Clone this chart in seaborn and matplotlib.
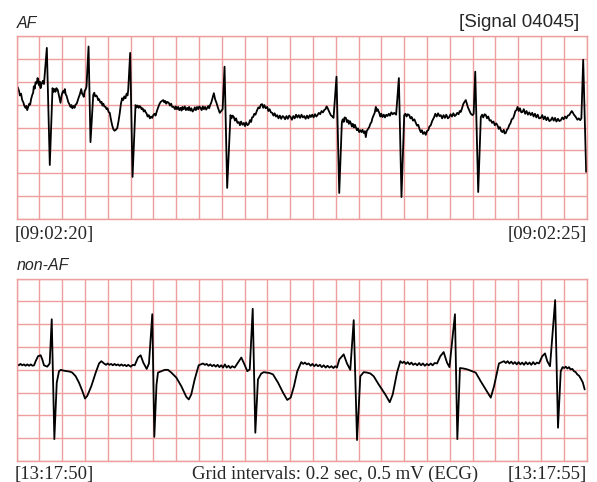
import numpy as np
import pandas as pd
import matplotlib
matplotlib.use("Agg")
import matplotlib.pyplot as plt
import seaborn as sns

# AF strip: (seconds from 09:02:20, millivolts)
af_trace = [
    (0.011, 0.88), (0.022, 0.80), (0.030, 0.70), (0.040, 0.74), (0.050, 0.60),
    (0.060, 0.55), (0.068, 0.48), (0.079, 0.43), (0.086, 0.47), (0.094, 0.38),
    (0.104, 0.46), (0.112, 0.52), (0.120, 0.50), (0.128, 0.62), (0.138, 0.71),
    (0.146, 0.76), (0.152, 0.90), (0.160, 0.85), (0.167, 0.99), (0.178, 0.96),
    (0.184, 1.08), (0.190, 1.06), (0.200, 0.92), (0.205, 1.00), (0.211, 0.86),
    (0.220, 0.95), (0.231, 1.02), (0.236, 0.98), (0.241, 0.95),
    (0.266, 1.74), (0.292, -0.82),
    (0.316, 0.86), (0.326, 0.78), (0.334, 0.84), (0.342, 0.78), (0.350, 0.86),
    (0.362, 0.82), (0.372, 0.70), (0.380, 0.60), (0.386, 0.54), (0.394, 0.68),
    (0.401, 0.75), (0.410, 0.80), (0.417, 0.76), (0.424, 0.84), (0.432, 0.72),
    (0.438, 0.70), (0.445, 0.64), (0.455, 0.55), (0.462, 0.52), (0.474, 0.45),
    (0.482, 0.49), (0.490, 0.42), (0.500, 0.47), (0.509, 0.43), (0.518, 0.50),
    (0.528, 0.52), (0.538, 0.60), (0.546, 0.66), (0.555, 0.72), (0.562, 0.78),
    (0.568, 0.84), (0.575, 0.74), (0.582, 0.72), (0.590, 0.67), (0.598, 0.80),
    (0.606, 0.83), (0.614, 0.89),
    (0.632, 1.77), (0.649, -0.32),
    (0.673, 0.71), (0.682, 0.76), (0.690, 0.68), (0.700, 0.70), (0.708, 0.67),
    (0.716, 0.60), (0.724, 0.62), (0.737, 0.54), (0.746, 0.56), (0.754, 0.48),
    (0.762, 0.52), (0.770, 0.46), (0.781, 0.45), (0.790, 0.40), (0.798, 0.42),
    (0.808, 0.34), (0.818, 0.32), (0.828, 0.18), (0.839, 0.05), (0.850, -0.04),
    (0.860, -0.07), (0.872, -0.05), (0.884, -0.01), (0.895, 0.14), (0.906, 0.32),
    (0.916, 0.52), (0.927, 0.64), (0.936, 0.60), (0.946, 0.68), (0.956, 0.64),
    (0.966, 0.74), (0.974, 0.70), (0.980, 0.82),
    (0.997, 1.63), (1.018, -1.08),
    (1.044, 0.49), (1.054, 0.44), (1.062, 0.48), (1.072, 0.43), (1.080, 0.47),
    (1.088, 0.45), (1.098, 0.40), (1.106, 0.42), (1.116, 0.35), (1.124, 0.38),
    (1.132, 0.34), (1.142, 0.30), (1.150, 0.24), (1.160, 0.27), (1.170, 0.20),
    (1.180, 0.24), (1.190, 0.21), (1.200, 0.27), (1.210, 0.30), (1.220, 0.26),
    (1.234, 0.38), (1.245, 0.45), (1.255, 0.52), (1.265, 0.56), (1.276, 0.58),
    (1.287, 0.60), (1.296, 0.55), (1.304, 0.58), (1.314, 0.52), (1.322, 0.56),
    (1.336, 0.54), (1.346, 0.48), (1.356, 0.52), (1.366, 0.45), (1.380, 0.45),
    (1.390, 0.40), (1.398, 0.46), (1.408, 0.40), (1.418, 0.45), (1.428, 0.38),
    (1.439, 0.43), (1.448, 0.37), (1.456, 0.45), (1.466, 0.40), (1.476, 0.46),
    (1.486, 0.38), (1.497, 0.43), (1.506, 0.38), (1.514, 0.45), (1.524, 0.37),
    (1.534, 0.42), (1.544, 0.35), (1.555, 0.38), (1.564, 0.44), (1.574, 0.38),
    (1.584, 0.45), (1.594, 0.40), (1.604, 0.46), (1.614, 0.43), (1.624, 0.38),
    (1.634, 0.46), (1.644, 0.40), (1.654, 0.45), (1.664, 0.39), (1.673, 0.43),
    (1.682, 0.47), (1.690, 0.42), (1.700, 0.50), (1.708, 0.54), (1.720, 0.65),
    (1.731, 0.75), (1.742, 0.62), (1.754, 0.54), (1.766, 0.44), (1.783, 0.32),
    (1.808, 0.40),
    (1.825, 1.33), (1.848, -1.32),
    (1.877, 0.27), (1.886, 0.20), (1.896, 0.26), (1.906, 0.23), (1.916, 0.15),
    (1.926, 0.20), (1.938, 0.10), (1.950, 0.12), (1.960, 0.05), (1.970, 0.13),
    (1.982, 0.06), (1.994, 0.10), (2.004, 0.03), (2.014, 0.11), (2.026, 0.05),
    (2.038, 0.08), (2.048, 0.16), (2.058, 0.12), (2.066, 0.22), (2.076, 0.23),
    (2.086, 0.30), (2.096, 0.28), (2.111, 0.38), (2.122, 0.44), (2.132, 0.42),
    (2.144, 0.50), (2.155, 0.51), (2.164, 0.43), (2.174, 0.49), (2.186, 0.42),
    (2.199, 0.45), (2.210, 0.36), (2.220, 0.40), (2.232, 0.33), (2.243, 0.32),
    (2.254, 0.26), (2.264, 0.31), (2.276, 0.24), (2.287, 0.27), (2.298, 0.20),
    (2.310, 0.26), (2.322, 0.19), (2.334, 0.25), (2.345, 0.23), (2.356, 0.18),
    (2.368, 0.25), (2.380, 0.19), (2.392, 0.26), (2.404, 0.23), (2.416, 0.17),
    (2.428, 0.25), (2.440, 0.20), (2.452, 0.28), (2.464, 0.22), (2.476, 0.27),
    (2.488, 0.21), (2.500, 0.28), (2.512, 0.22), (2.524, 0.25), (2.536, 0.19),
    (2.548, 0.26), (2.560, 0.20), (2.572, 0.27), (2.582, 0.23), (2.594, 0.28),
    (2.606, 0.22), (2.618, 0.29), (2.630, 0.24), (2.640, 0.27), (2.652, 0.32),
    (2.664, 0.29), (2.676, 0.36), (2.688, 0.33), (2.699, 0.38), (2.710, 0.40),
    (2.720, 0.46), (2.728, 0.43), (2.740, 0.36), (2.757, 0.27), (2.770, 0.24),
    (2.781, 0.21),
    (2.807, 1.11), (2.831, -1.43),
    (2.854, 0.12), (2.862, 0.18), (2.870, 0.12), (2.878, 0.22), (2.889, 0.21),
    (2.898, 0.12), (2.906, 0.16), (2.916, 0.08), (2.924, 0.14), (2.932, 0.10),
    (2.942, 0.02), (2.950, 0.08), (2.960, 0.00), (2.968, 0.06), (2.976, 0.01),
    (2.986, -0.06), (2.996, -0.02), (3.006, -0.10), (3.016, -0.06), (3.026, -0.10),
    (3.035, -0.05), (3.046, -0.12), (3.056, -0.08), (3.064, -0.21), (3.072, -0.08),
    (3.082, -0.04), (3.094, 0.01), (3.104, 0.08), (3.114, 0.12), (3.123, 0.21),
    (3.132, 0.26), (3.142, 0.32), (3.152, 0.45), (3.160, 0.36), (3.168, 0.40),
    (3.182, 0.32), (3.192, 0.24), (3.200, 0.30), (3.211, 0.23), (3.222, 0.28),
    (3.232, 0.22), (3.244, 0.28), (3.254, 0.25), (3.266, 0.30), (3.276, 0.26),
    (3.288, 0.33), (3.300, 0.29), (3.313, 0.32), (3.330, 0.28),
    (3.354, 1.08), (3.377, -1.52),
    (3.401, 0.27), (3.412, 0.30), (3.422, 0.24), (3.432, 0.29), (3.445, 0.27),
    (3.456, 0.20), (3.466, 0.23), (3.478, 0.15), (3.490, 0.18), (3.503, 0.10),
    (3.514, 0.04), (3.524, 0.06), (3.536, -0.04), (3.546, -0.10), (3.556, -0.06),
    (3.566, -0.14), (3.578, -0.10), (3.590, -0.16), (3.600, -0.08), (3.612, -0.06),
    (3.622, 0.02), (3.634, 0.05), (3.646, 0.14), (3.654, 0.18), (3.664, 0.23),
    (3.674, 0.30), (3.686, 0.24), (3.698, 0.31), (3.710, 0.25), (3.722, 0.27),
    (3.734, 0.20), (3.746, 0.27), (3.758, 0.21), (3.770, 0.28), (3.784, 0.20),
    (3.796, 0.23), (3.808, 0.29), (3.820, 0.24), (3.832, 0.31), (3.844, 0.25),
    (3.854, 0.27), (3.866, 0.32), (3.878, 0.29), (3.888, 0.36), (3.897, 0.34),
    (3.908, 0.42), (3.920, 0.52), (3.930, 0.56), (3.941, 0.60), (3.950, 0.52),
    (3.960, 0.44), (3.971, 0.38), (3.985, 0.30), (4.000, 0.27), (4.010, 0.30),
    (4.024, 1.22), (4.050, -1.41),
    (4.073, 0.23), (4.084, 0.28), (4.094, 0.22), (4.106, 0.29), (4.117, 0.27),
    (4.128, 0.20), (4.138, 0.24), (4.150, 0.15), (4.161, 0.16), (4.172, 0.10),
    (4.184, 0.13), (4.196, 0.05), (4.208, 0.09), (4.219, 0.05), (4.230, -0.03),
    (4.240, 0.01), (4.252, -0.08), (4.263, -0.10), (4.274, -0.05), (4.282, -0.13),
    (4.292, -0.12), (4.302, -0.05), (4.312, -0.02), (4.322, 0.05), (4.334, 0.10),
    (4.344, 0.18), (4.356, 0.20), (4.366, 0.27), (4.376, 0.36), (4.386, 0.38),
    (4.395, 0.45), (4.406, 0.36), (4.416, 0.42), (4.428, 0.33), (4.439, 0.34),
    (4.450, 0.40), (4.462, 0.30), (4.474, 0.36), (4.486, 0.28), (4.498, 0.33),
    (4.511, 0.27), (4.524, 0.32), (4.536, 0.24), (4.548, 0.30), (4.560, 0.22),
    (4.572, 0.28), (4.584, 0.20), (4.599, 0.21), (4.612, 0.27), (4.624, 0.18),
    (4.636, 0.24), (4.648, 0.16), (4.660, 0.22), (4.674, 0.14), (4.687, 0.16),
    (4.700, 0.22), (4.712, 0.15), (4.724, 0.21), (4.736, 0.13), (4.750, 0.19),
    (4.762, 0.14), (4.775, 0.16), (4.788, 0.22), (4.800, 0.18), (4.812, 0.24),
    (4.824, 0.20), (4.836, 0.26), (4.848, 0.27), (4.860, 0.32), (4.870, 0.36),
    (4.877, 0.34), (4.890, 0.28), (4.906, 0.23), (4.920, 0.17), (4.932, 0.20),
    (4.945, 0.16), (4.955, 0.20),
    (4.971, 1.48), (4.997, -0.97),
]

# non-AF strip: (seconds from 13:17:50, millivolts)
sinus_trace = [
    (0.002, 0.12), (0.020, 0.10), (0.035, 0.13), (0.050, 0.10), (0.065, 0.12),
    (0.080, 0.09), (0.095, 0.12), (0.110, 0.09), (0.125, 0.12), (0.140, 0.09),
    (0.154, 0.10), (0.168, 0.19), (0.189, 0.30), (0.212, 0.32), (0.226, 0.23),
    (0.241, 0.10), (0.270, 0.07), (0.291, 0.14),
    (0.309, 1.11), (0.332, -1.52),
    (0.353, -0.28), (0.373, -0.03), (0.388, 0.00), (0.402, -0.01), (0.420, -0.02),
    (0.446, -0.03), (0.470, -0.04), (0.489, -0.06), (0.519, -0.14), (0.548, -0.28),
    (0.577, -0.46), (0.601, -0.63), (0.621, -0.57), (0.656, -0.36), (0.695, -0.06),
    (0.724, 0.14), (0.744, 0.19), (0.768, 0.14), (0.785, 0.11), (0.800, 0.14),
    (0.815, 0.11), (0.830, 0.13), (0.845, 0.10), (0.860, 0.13), (0.875, 0.10),
    (0.890, 0.12), (0.905, 0.09), (0.920, 0.12), (0.935, 0.09), (0.950, 0.11),
    (0.965, 0.08), (0.980, 0.11), (1.002, 0.07), (1.020, 0.11), (1.037, 0.10),
    (1.066, 0.27), (1.089, 0.32), (1.112, 0.16), (1.142, 0.02), (1.162, 0.14),
    (1.191, 1.22), (1.209, -1.47),
    (1.228, -0.33), (1.241, -0.06), (1.270, -0.03), (1.300, 0.00), (1.329, 0.00),
    (1.358, -0.06), (1.402, -0.17), (1.446, -0.36), (1.489, -0.59), (1.511, -0.65),
    (1.533, -0.54), (1.563, -0.21), (1.598, 0.10), (1.636, 0.14), (1.652, 0.11),
    (1.668, 0.13), (1.684, 0.09), (1.700, 0.12), (1.716, 0.08), (1.732, 0.11),
    (1.748, 0.07), (1.764, 0.11), (1.780, 0.06), (1.796, 0.10), (1.812, 0.05),
    (1.828, 0.12), (1.844, 0.05), (1.860, 0.09), (1.876, 0.04), (1.892, 0.08),
    (1.914, 0.05), (1.943, 0.16), (1.972, 0.27), (1.996, 0.14), (2.025, -0.03),
    (2.046, 0.01),
    (2.072, 1.34), (2.095, -1.38),
    (2.118, -0.21), (2.147, -0.08), (2.170, -0.05), (2.191, -0.06), (2.220, -0.07),
    (2.250, -0.10), (2.294, -0.28), (2.338, -0.50), (2.375, -0.66), (2.405, -0.61),
    (2.434, -0.36), (2.463, -0.03), (2.498, 0.17), (2.515, 0.13), (2.530, 0.16),
    (2.546, 0.12), (2.563, 0.14), (2.580, 0.09), (2.596, 0.13), (2.612, 0.08),
    (2.628, 0.12), (2.645, 0.08), (2.662, 0.11), (2.678, 0.06), (2.695, 0.10),
    (2.712, 0.05), (2.728, 0.09), (2.745, 0.05), (2.762, 0.08), (2.780, 0.04),
    (2.796, 0.08), (2.811, 0.05), (2.832, 0.23), (2.870, 0.34), (2.899, 0.14),
    (2.928, 0.00),
    (2.958, 1.09), (2.987, -1.54),
    (3.016, -0.14), (3.046, -0.05), (3.075, -0.06), (3.104, -0.08), (3.133, -0.14),
    (3.177, -0.32), (3.235, -0.54), (3.274, -0.71), (3.300, -0.54), (3.338, -0.06),
    (3.367, 0.19), (3.385, 0.15), (3.400, 0.18), (3.416, 0.13), (3.432, 0.17),
    (3.448, 0.12), (3.464, 0.16), (3.480, 0.11), (3.498, 0.14), (3.515, 0.10),
    (3.532, 0.15), (3.548, 0.10), (3.565, 0.14), (3.582, 0.09), (3.600, 0.13),
    (3.616, 0.10), (3.634, 0.14), (3.650, 0.10), (3.668, 0.15), (3.689, 0.14),
    (3.718, 0.30), (3.747, 0.39), (3.776, 0.16), (3.798, 0.06),
    (3.846, 1.22), (3.867, -1.52),
    (3.890, 0.04), (3.920, 0.03), (3.954, 0.01), (4.028, -0.06), (4.072, -0.25),
    (4.116, -0.43), (4.160, -0.61), (4.189, -0.36), (4.232, 0.14), (4.276, 0.19),
    (4.292, 0.15), (4.308, 0.19), (4.324, 0.14), (4.340, 0.18), (4.356, 0.13),
    (4.372, 0.17), (4.388, 0.12), (4.404, 0.17), (4.420, 0.12), (4.436, 0.16),
    (4.452, 0.11), (4.468, 0.17), (4.484, 0.12), (4.500, 0.16), (4.516, 0.11),
    (4.532, 0.17), (4.548, 0.12), (4.565, 0.16), (4.583, 0.14), (4.612, 0.30),
    (4.636, 0.36), (4.656, 0.19), (4.680, 0.08),
    (4.725, 1.53), (4.750, -1.27),
    (4.774, -0.03), (4.790, 0.06), (4.804, 0.04), (4.818, 0.07), (4.832, 0.03),
    (4.846, 0.06), (4.860, 0.01), (4.876, 0.02), (4.890, -0.03), (4.905, -0.05),
    (4.919, -0.10), (4.935, -0.13), (4.954, -0.21), (4.968, -0.28), (4.984, -0.43),
]

strip_labels = ["AF", "non-AF"]
start_stamps = ["[09:02:20]", "[13:17:50]"]
end_stamps = ["[09:02:25]", "[13:17:55]"]
signal_label = "[Signal 04045]"
grid_note = "Grid intervals: 0.2 sec, 0.5 mV (ECG)"

sns.set_style("white")

W, H = 597, 482
fig = plt.figure(figsize=(W / 100, H / 100), dpi=100)
grid_color = "#ef9e9e"


def px_axes(left, top, right, bottom):
    return fig.add_axes([left / W, 1 - bottom / H, (right - left) / W, (bottom - top) / H])


def ecg_panel(ax, trace):
    df = pd.DataFrame(trace, columns=["t", "mv"])
    sns.lineplot(data=df, x="t", y="mv", ax=ax, color="black", lw=1.3,
                 estimator=None, sort=False)
    for ln in ax.lines:
        ln.set_solid_joinstyle("round")
    ax.set_xlim(0, 5)
    ax.set_ylim(-2, 2)
    ax.set_xticks(np.arange(0, 5.001, 0.2))
    ax.set_yticks(np.arange(-2, 2.001, 0.5))
    ax.set_xticklabels([])
    ax.set_yticklabels([])
    ax.tick_params(length=0)
    ax.grid(True, color=grid_color, lw=1.0)
    ax.set_axisbelow(True)
    ax.set_xlabel("")
    ax.set_ylabel("")
    for s in ax.spines.values():
        s.set_color(grid_color)
        s.set_linewidth(1.0)


ax_top = px_axes(16.5, 36, 586.5, 219)
ecg_panel(ax_top, af_trace)
ax_bot = px_axes(16.5, 278.7, 586.5, 461)
ecg_panel(ax_bot, sinus_trace)


def ftext(x, y, s, **kw):
    fig.text(x / W, 1 - y / H, s, va="baseline", **kw)


sans = "Liberation Sans"
serif = "Liberation Serif"
ftext(17, 28.3, strip_labels[0], fontsize=11.5, style="italic", family=sans)
ftext(17, 269.5, strip_labels[1], fontsize=11.5, style="italic", family=sans)
ftext(579, 26.7, signal_label, fontsize=13.5, ha="right", family=sans)
ftext(15, 239.3, start_stamps[0], fontsize=13.5, family=serif)
ftext(587, 239.3, end_stamps[0], fontsize=13.5, ha="right", family=serif)
ftext(15, 479.0, start_stamps[1], fontsize=13.5, family=serif)
ftext(587, 479.0, end_stamps[1], fontsize=13.5, ha="right", family=serif)
ftext(192, 479.0, grid_note, fontsize=13.5, family=serif)

fig.savefig("out.png", dpi=100, facecolor="white")
